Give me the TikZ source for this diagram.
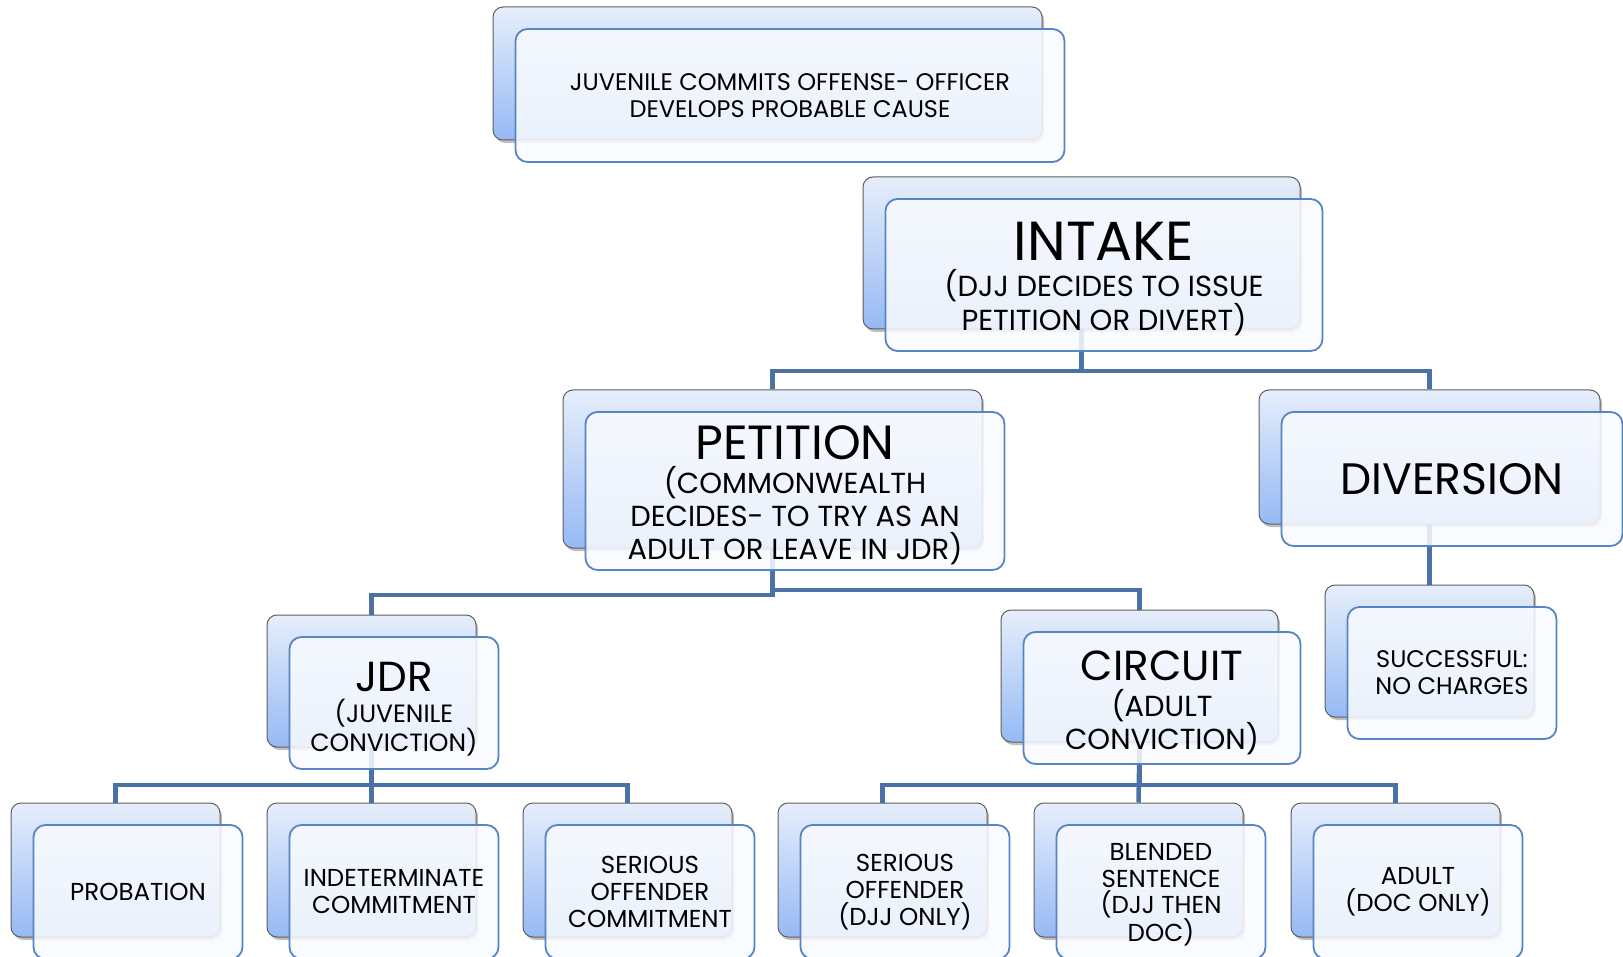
\documentclass[tikz,border=0pt]{standalone}
\usepackage{fontspec}
\setmainfont{Poppins}
\usetikzlibrary{shadows,backgrounds}
\definecolor{bktop}{HTML}{E6EEFB}
\definecolor{bkbot}{HTML}{96B9F4}
\definecolor{bkline}{HTML}{5F5F5F}
\definecolor{frline}{HTML}{5585C2}
\definecolor{frfill}{HTML}{F9FBFE}
\definecolor{conncol}{HTML}{4A72A6}
\newcommand\mkpair[8]{%
  \node[backbox, minimum width=#4pt, minimum height=#5pt] (#1B) at (#2+#4/2, #3+#5/2) {};
  \node[frontbox, minimum width=#4pt, minimum height=#5pt] (#1) at (#2+#4/2+22.5, #3+#5/2+22) {};
  \node[boxtext, font=#6] (#1T) at ([yshift=-#8pt]#1.center) {#7};
}
\begin{document}
\begin{tikzpicture}[x=1pt,y=-1pt,
  backbox/.style={rectangle, rounded corners=10pt, draw=bkline, line width=1pt,
    top color=bktop, bottom color=bkbot, inner sep=0pt,
    drop shadow={shadow xshift=2pt, shadow yshift=-3pt, opacity=0.25, fill=black}},
  frontbox/.style={rectangle, rounded corners=12pt, draw=frline, line width=1.8pt,
    fill=frfill, fill opacity=0.86, inner sep=0pt},
  boxtext/.style={inner sep=0pt, align=center, text=black},
  conn/.style={draw=conncol, line width=4.5pt}]
\useasboundingbox (0,0) rectangle (1623,957);

\mkpair{top}{493}{7}{549}{133}{\fontsize{24}{27}\selectfont}{JUVENILE COMMITS OFFENSE- OFFICER\\DEVELOPS PROBABLE CAUSE}{0}
\mkpair{intake}{863}{177}{437}{152}{\fontsize{29}{32}\selectfont}{{\fontsize{55}{58}\selectfont INTAKE}\\[4pt](DJJ DECIDES TO ISSUE\\PETITION OR DIVERT)}{4}
\mkpair{petition}{563}{390}{419}{158}{\fontsize{29}{33}\selectfont}{{\fontsize{48}{50}\selectfont PETITION}\\[1pt](COMMONWEALTH\\DECIDES- TO TRY AS AN\\ADULT OR LEAVE IN JDR)}{4}
\mkpair{div}{1259}{390}{341}{134}{\fontsize{44}{46}\selectfont}{DIVERSION}{0}
\mkpair{succ}{1325}{585}{209}{132}{\fontsize{24}{27}\selectfont}{SUCCESSFUL:\\NO CHARGES}{0}
\mkpair{jdr}{267}{615}{209}{132}{\fontsize{25}{26}\selectfont}{{\fontsize{42}{44}\selectfont JDR}\\[5pt](JUVENILE\\CONVICTION)}{6}
\mkpair{circ}{1001}{610}{277}{132}{\fontsize{29}{31}\selectfont}{{\fontsize{42}{44}\selectfont CIRCUIT}\\[5pt](ADULT\\CONVICTION)}{5}
\mkpair{prob}{11}{803}{209}{134}{\fontsize{24.5}{27}\selectfont}{PROBATION}{0}
\mkpair{indet}{267}{803}{209}{134}{\fontsize{24.5}{27}\selectfont}{INDETERMINATE\\COMMITMENT}{0}
\mkpair{soc}{523}{803}{209}{134}{\fontsize{24.5}{27}\selectfont}{SERIOUS\\OFFENDER\\COMMITMENT}{0}
\mkpair{sodjj}{778}{803}{209}{134}{\fontsize{24.5}{27}\selectfont}{SERIOUS\\OFFENDER\\(DJJ ONLY)}{0}
\mkpair{blend}{1034}{803}{209}{134}{\fontsize{24.5}{26.5}\selectfont}{BLENDED\\SENTENCE\\(DJJ THEN\\DOC)}{3}
\mkpair{adult}{1291}{803}{209}{134}{\fontsize{24.5}{27}\selectfont}{ADULT\\(DOC ONLY)}{0}

\coordinate (hI) at (0,371);
\coordinate (hPl) at (0,595);
\coordinate (hPr) at (0,590);
\coordinate (hJ) at (0,785);
\coordinate (hC) at (0,785);

\begin{pgfonlayer}{background}
\fill[white] (0,0) rectangle (1623,957);
\draw[conn] (intakeB.south) -- (intakeB.south |- hI) -| (petitionB.north);
\draw[conn] (intakeB.south |- hI) -| (divB.north);
\draw[conn] (petitionB.south) -- (petitionB.south |- hPl) -| (jdrB.north);
\draw[conn] (petitionB.south) -- (petitionB.south |- hPr) -| (circB.north);
\draw[conn] (divB.south) -- (succB.north);
\draw[conn] (jdrB.south) -- (jdrB.south |- hJ) -| (probB.north);
\draw[conn] (jdrB.south) -- (indetB.north);
\draw[conn] (jdrB.south |- hJ) -| (socB.north);
\draw[conn] (circB.south) -- (circB.south |- hC) -| (sodjjB.north);
\draw[conn] (circB.south) -- (blendB.north);
\draw[conn] (circB.south |- hC) -| (adultB.north);
\end{pgfonlayer}
\end{tikzpicture}
\end{document}
